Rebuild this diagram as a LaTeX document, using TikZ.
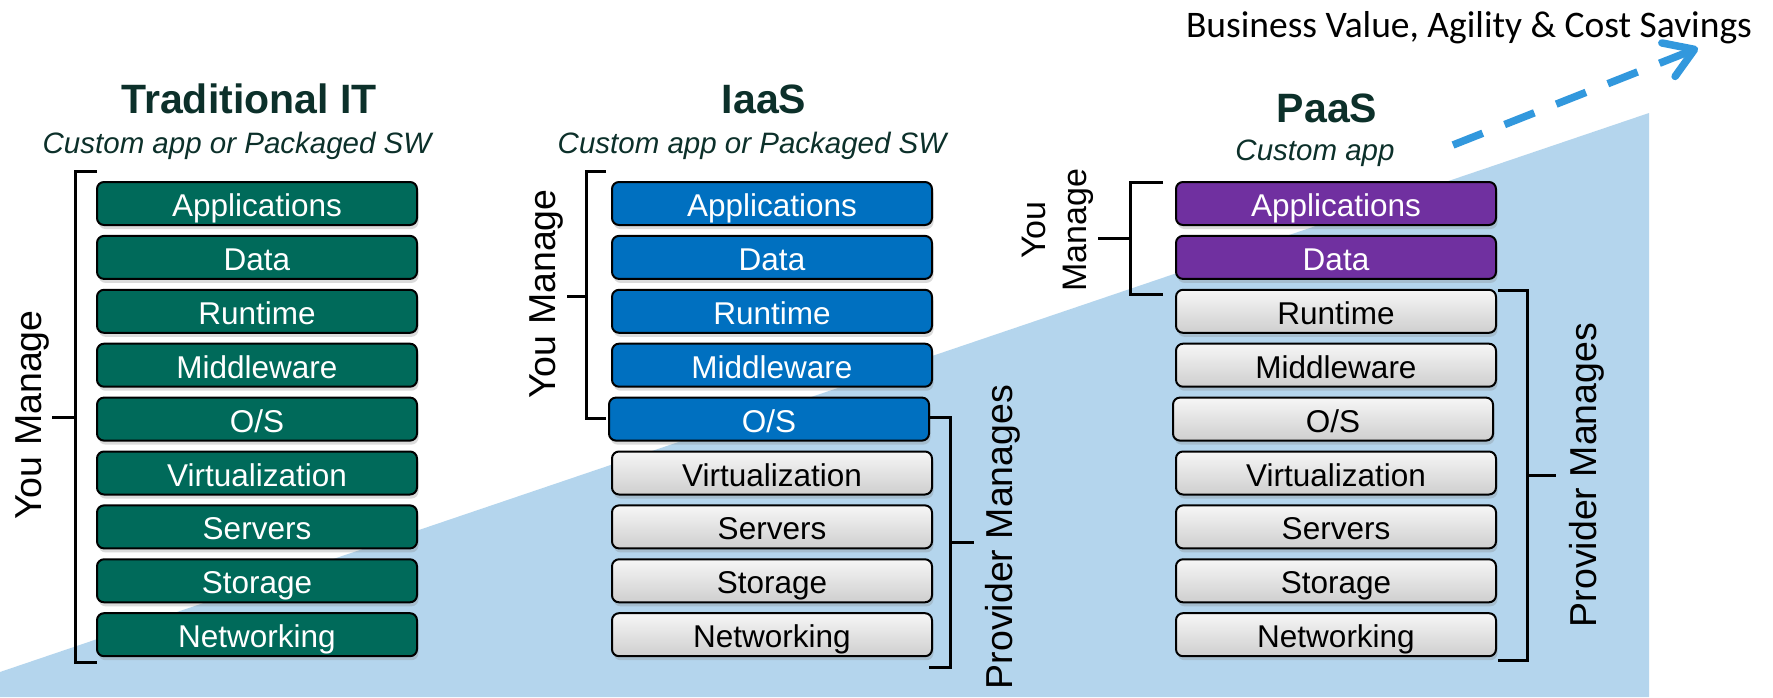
\documentclass[tikz,border=0pt]{standalone}
\usepackage{fontspec}
\setmainfont{Liberation Sans}
\newfontfamily\calibrifont{Carlito}
\usetikzlibrary{arrows.meta,shadows}

\definecolor{tradgreen}{RGB}{0,106,90}
\definecolor{iaasblue}{RGB}{0,112,192}
\definecolor{paaspurple}{RGB}{112,48,160}
\definecolor{titleink}{RGB}{12,48,42}
\definecolor{wedge}{RGB}{180,213,237}
\definecolor{arrowblue}{RGB}{50,152,221}

\tikzset{
  layer/.style={draw=black, line width=2pt, rounded corners=7pt,
    minimum width=320pt, minimum height=43pt, inner sep=0pt,
    text height=27pt, text depth=1pt,
    font=\fontsize{31.5}{37}\selectfont,
    drop shadow={shadow xshift=1.5pt, shadow yshift=-4pt, opacity=0.28}},
  tradbox/.style={layer, fill=tradgreen, text=white},
  iaasbox/.style={layer, fill=iaasblue, text=white},
  paasbox/.style={layer, fill=paaspurple, text=white},
  provbox/.style={layer, top color=gray!7, bottom color=gray!38, text=black},
  coltitle/.style={anchor=base, text=titleink, font=\bfseries\fontsize{41}{49}\selectfont},
  colsub/.style={anchor=base, text=titleink, font=\itshape\fontsize{29.5}{35}\selectfont},
  sidelabel/.style={rotate=90, inner sep=0pt, font=\fontsize{37.5}{45}\selectfont},
  brace/.style={draw=black, line width=3pt, line join=miter},
}

\begin{document}
\begin{tikzpicture}[x=1pt,y=-1pt]
\useasboundingbox (0,0) rectangle (1773,697);
\fill[white] (0,0) rectangle (1773,697);

% rising wedge in the background
\fill[wedge] (0,672) -- (1649,113) -- (1649,697) -- (0,697) -- cycle;

% value arrow and its caption
\node[anchor=base, font=\calibrifont\fontsize{37.5}{45}\selectfont] (gain) at (1469,37)
  {Business Value, Agility \& Cost Savings};
\coordinate (arrowtail) at (1453,145);
\coordinate (arrowtip) at (1698,48);
\draw[arrowblue, line width=7.5pt, dash pattern=on 32pt off 23.5pt,
  -{Straight Barb[length=28pt, width=36pt, line cap=round, line join=round]}]
  (arrowtail) -- (arrowtip);

% column headings
\node[coltitle] (ttitle) at (249,113) {Traditional IT};
\node[colsub] (tsub) at (237,153) {Custom app or Packaged SW};
\node[coltitle] (ititle) at (764,113) {IaaS};
\node[colsub] (isub) at (752,153) {Custom app or Packaged SW};
\node[coltitle] (ptitle) at (1327,122) {PaaS};
\node[colsub] (psub) at (1315,160) {Custom app};

% Traditional IT stack
\node[tradbox] (t1) at (257,203.5) {Applications};
\node[tradbox] (t2) at (257,257.4) {Data};
\node[tradbox] (t3) at (257,311.3) {Runtime};
\node[tradbox] (t4) at (257,365.2) {Middleware};
\node[tradbox] (t5) at (257,419.1) {O/S};
\node[tradbox] (t6) at (257,473.0) {Virtualization};
\node[tradbox] (t7) at (257,526.9) {Servers};
\node[tradbox] (t8) at (257,580.8) {Storage};
\node[tradbox] (t9) at (257,634.7) {Networking};

% IaaS stack
\node[iaasbox] (i1) at (772,203.5) {Applications};
\node[iaasbox] (i2) at (772,257.4) {Data};
\node[iaasbox] (i3) at (772,311.3) {Runtime};
\node[iaasbox] (i4) at (772,365.2) {Middleware};
\node[iaasbox] (i5) at (769,419.1) {O/S};
\node[provbox] (i6) at (772,473.0) {Virtualization};
\node[provbox] (i7) at (772,526.9) {Servers};
\node[provbox] (i8) at (772,580.8) {Storage};
\node[provbox] (i9) at (772,634.7) {Networking};

% PaaS stack
\node[paasbox] (p1) at (1336,203.5) {Applications};
\node[paasbox] (p2) at (1336,257.4) {Data};
\node[provbox] (p3) at (1336,311.3) {Runtime};
\node[provbox] (p4) at (1336,365.2) {Middleware};
\node[provbox] (p5) at (1333,419.1) {O/S};
\node[provbox] (p6) at (1336,473.0) {Virtualization};
\node[provbox] (p7) at (1336,526.9) {Servers};
\node[provbox] (p8) at (1336,580.8) {Storage};
\node[provbox] (p9) at (1336,634.7) {Networking};

% brackets and their labels
\draw[brace] (97,171) -- (75,171) -- (75,662) -- (97,662);
\draw[brace] (75,417) -- (52,417);
\node[sidelabel] (tyou) at (32,415) {You Manage};

\draw[brace] (606,171) -- (586,171) -- (586,418) -- (606,418);
\draw[brace] (586,296) -- (567,296);
\node[sidelabel] (iyou) at (546,294) {You Manage};

\draw[brace] (929,417) -- (950,417) -- (950,667) -- (929,667);
\draw[brace] (950,542) -- (974,542);
\node[sidelabel] (iprov) at (1003,537) {Provider Manages};

\draw[brace] (1163,182) -- (1130,182) -- (1130,294) -- (1163,294);
\draw[brace] (1130,238) -- (1098,238);
\node[rotate=90, inner sep=0pt, align=center, font=\fontsize{34}{41}\selectfont]
  (pyou) at (1058,230) {You\\Manage};

\draw[brace] (1498,290) -- (1527,290) -- (1527,660) -- (1498,660);
\draw[brace] (1527,475) -- (1556,475);
\node[sidelabel] (pprov) at (1587,475) {Provider Manages};
\end{tikzpicture}
\end{document}
